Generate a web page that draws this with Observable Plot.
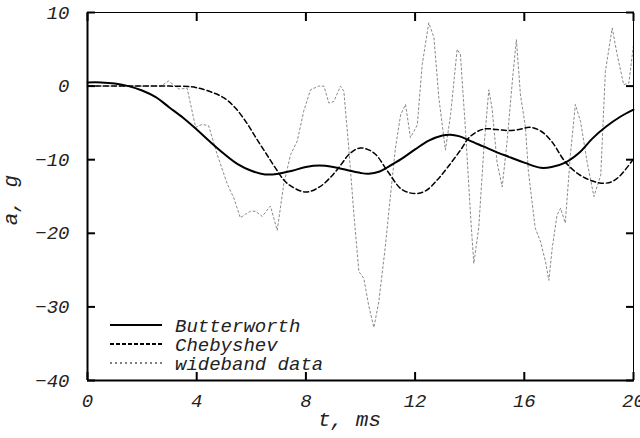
<!DOCTYPE html>
<html><head><meta charset="utf-8">
<script src="https://cdn.jsdelivr.net/npm/d3@7"></script>
<script src="https://cdn.jsdelivr.net/npm/@observablehq/plot@0.6"></script>
<style>
body{margin:0;background:#fff;}
#chart{position:relative;width:640px;height:438px;}
#legend{position:absolute;left:0;top:0;pointer-events:none;}
</style></head><body><div id="chart"></div>
<script>
// Butterworth filtered signal
const butterT = [0,0.5,1.0,1.5,2.0,2.5,3.0,3.5,4.0,4.5,5.0,5.5,6.0,6.5,7.0,7.5,8.0,8.5,9.0,9.5,10.0,10.3,10.7,11.0,11.5,12.0,12.5,13.0,13.3,13.6,14.0,14.5,15.0,15.5,16.0,16.6,17.0,17.5,18.0,18.5,19.0,19.5,20.0];
const butterA = [0.5,0.5,0.35,0.0,-0.6,-1.5,-2.9,-4.3,-5.9,-7.6,-9.2,-10.6,-11.5,-12.0,-11.9,-11.5,-11.0,-10.8,-11.0,-11.4,-11.8,-11.9,-11.6,-11.0,-9.9,-8.6,-7.4,-6.7,-6.6,-6.8,-7.4,-8.2,-9.0,-9.7,-10.4,-11.1,-11.0,-10.4,-9.1,-7.1,-5.5,-4.2,-3.2];
// Chebyshev filtered signal
const chebT = [0,1,2,3,3.8,4.2,4.6,5.0,5.4,5.85,6.2,6.6,6.95,7.2,7.5,8.0,8.5,9.0,9.3,9.6,10.0,10.5,11.0,11.5,12.0,12.4,12.8,13.2,13.7,14.0,14.5,15.0,15.4,15.8,16.2,16.6,17.0,17.5,18.0,18.5,18.9,19.2,19.5,20.0];
const chebA = [0,0,0,0,-0.1,-0.4,-0.9,-1.6,-2.9,-5.1,-7.2,-9.5,-11.5,-12.8,-13.7,-14.4,-13.7,-12.0,-10.6,-9.2,-8.4,-9.1,-11.6,-14.0,-14.6,-14.2,-12.8,-11.0,-8.5,-6.9,-5.85,-5.9,-6.05,-5.9,-5.6,-6.1,-7.5,-10.3,-12.0,-12.9,-13.2,-13.0,-12.2,-9.9];
// wideband data
const wideT = [0,2.7,2.97,3.35,3.65,3.96,4.2,4.44,4.75,5.12,5.36,5.6,5.79,5.97,6.15,6.4,6.7,6.95,7.19,7.44,7.68,7.92,8.17,8.47,8.66,8.84,9.02,9.27,9.39,9.57,9.76,9.94,10.12,10.3,10.49,10.67,10.9,11.1,11.28,11.47,11.65,11.83,12.08,12.26,12.5,12.69,12.87,13.11,13.3,13.54,13.66,13.85,14.03,14.15,14.33,14.52,14.7,14.82,15.0,15.19,15.37,15.56,15.71,15.86,16.04,16.15,16.4,16.6,16.78,16.9,17.02,17.2,17.33,17.5,17.69,17.87,18.06,18.3,18.55,18.8,18.97,19.22,19.4,19.64,19.83,20.0];
const wideA = [0,0,0.7,-0.4,-0.3,-5.6,-5.2,-5.4,-9.3,-13.3,-15.2,-17.9,-17.4,-17.0,-17.0,-17.7,-16.3,-19.6,-13.3,-9.3,-7.5,-3.4,-0.5,0,0,-2.3,-2.1,0,-0.7,-8.4,-17.5,-25.2,-26.1,-29.8,-32.8,-29.3,-22.1,-14.8,-8.4,-3.9,-2.5,-7.0,-5.3,2.9,8.6,6.6,-1.6,-8.7,-3.9,5.0,4.3,-6.2,-17.5,-24.1,-19.3,-8.4,-0.5,-3.0,-10.3,-13.7,-7.5,0.6,6.3,-1.2,-5.5,-11.6,-19.3,-21.2,-23.9,-26.4,-22.1,-17.5,-16.6,-18.6,-9.3,-2.5,-4.8,-10.3,-15.0,-12.1,2.0,7.9,4.3,0.2,0.4,5.6];

const xTicks = [0,4,8,12,16,20];
const yTicks = [10,0,-10,-20,-30,-40];
const xLabel = "t, ms";
const yLabel = "a, g";
const seriesNames = ["Butterworth","Chebyshev","wideband data"];

const toRows = (T, A) => T.map((t, i) => ({t, a: A[i]}));
const butter = toRows(butterT, butterA);
const cheb = toRows(chebT, chebA);
const wide = toRows(wideT, wideA);

const font = "'Liberation Mono', 'Courier New', monospace";
const noText = () => "";

const plot = Plot.plot({
  width: 640, height: 438,
  marginLeft: 87, marginRight: 7, marginTop: 12, marginBottom: 58,
  style: {fontFamily: font, fontStyle: "italic", fontSize: "19px", background: "white", color: "black"},
  x: {domain: [0, 20]},
  y: {domain: [-40, 10]},
  marks: [
    Plot.line(wide, {x: "t", y: "a", stroke: "#8a8a8a", strokeWidth: 1, strokeDasharray: "2,2.5"}),
    Plot.line(cheb, {x: "t", y: "a", stroke: "black", strokeWidth: 1.5, strokeDasharray: "5,3", curve: "catmull-rom"}),
    Plot.line(butter, {x: "t", y: "a", stroke: "black", strokeWidth: 2, curve: "catmull-rom"}),
    Plot.frame({stroke: "black", strokeWidth: 1}),
    Plot.ruleX([0], {stroke: "black", strokeWidth: 2}),
    Plot.ruleY([-40], {stroke: "black", strokeWidth: 2}),
    Plot.axisX(xTicks, {anchor: "bottom", tickSize: -8, tickFormat: noText, strokeWidth: 2, label: null}),
    Plot.axisX(xTicks, {anchor: "top", tickSize: -8, tickFormat: noText, strokeWidth: 2, label: null}),
    Plot.axisY(yTicks, {anchor: "left", tickSize: -8, tickFormat: noText, strokeWidth: 2, label: null}),
    Plot.axisY(yTicks, {anchor: "right", tickSize: -8, tickFormat: noText, strokeWidth: 2, label: null}),
    Plot.axisX(xTicks, {anchor: "bottom", tickSize: 0, tickPadding: 13, label: null, fill: "#222"}),
    Plot.axisY(yTicks, {anchor: "left", tickSize: 0, tickPadding: 18, label: null, fill: "#222"}),
    Plot.text([xLabel], {frameAnchor: "bottom", dy: 45, dx: -11, fontSize: 21, fill: "#222"})
  ]
});
document.getElementById("chart").appendChild(plot);

// overlay: rotated y-axis title and legend inside the plot area
const svg = d3.select("#chart").append("svg").attr("id", "legend").attr("width", 640).attr("height", 438);
svg.append("text")
  .attr("transform", "translate(10,200) rotate(-90)")
  .attr("text-anchor", "middle").attr("dy", "0.35em")
  .attr("font-family", font).attr("font-style", "italic").attr("font-size", 21).attr("fill", "#222")
  .text(yLabel);

const legendStyles = [
  {stroke: "black", width: 2, dash: null},
  {stroke: "black", width: 2, dash: "4,2"},
  {stroke: "black", width: 1, dash: "2,3"}
];
seriesNames.forEach((name, i) => {
  const y = 325 + i * 19;
  const s = legendStyles[i];
  svg.append("line").attr("x1", 110).attr("x2", 162).attr("y1", y).attr("y2", y)
    .attr("stroke", s.stroke).attr("stroke-width", s.width).attr("stroke-dasharray", s.dash);
  svg.append("text").attr("x", 175).attr("y", y).attr("dy", "0.35em")
    .attr("font-family", font).attr("font-style", "italic").attr("font-size", 19).attr("fill", "#222").text(name);
});
</script></body></html>
